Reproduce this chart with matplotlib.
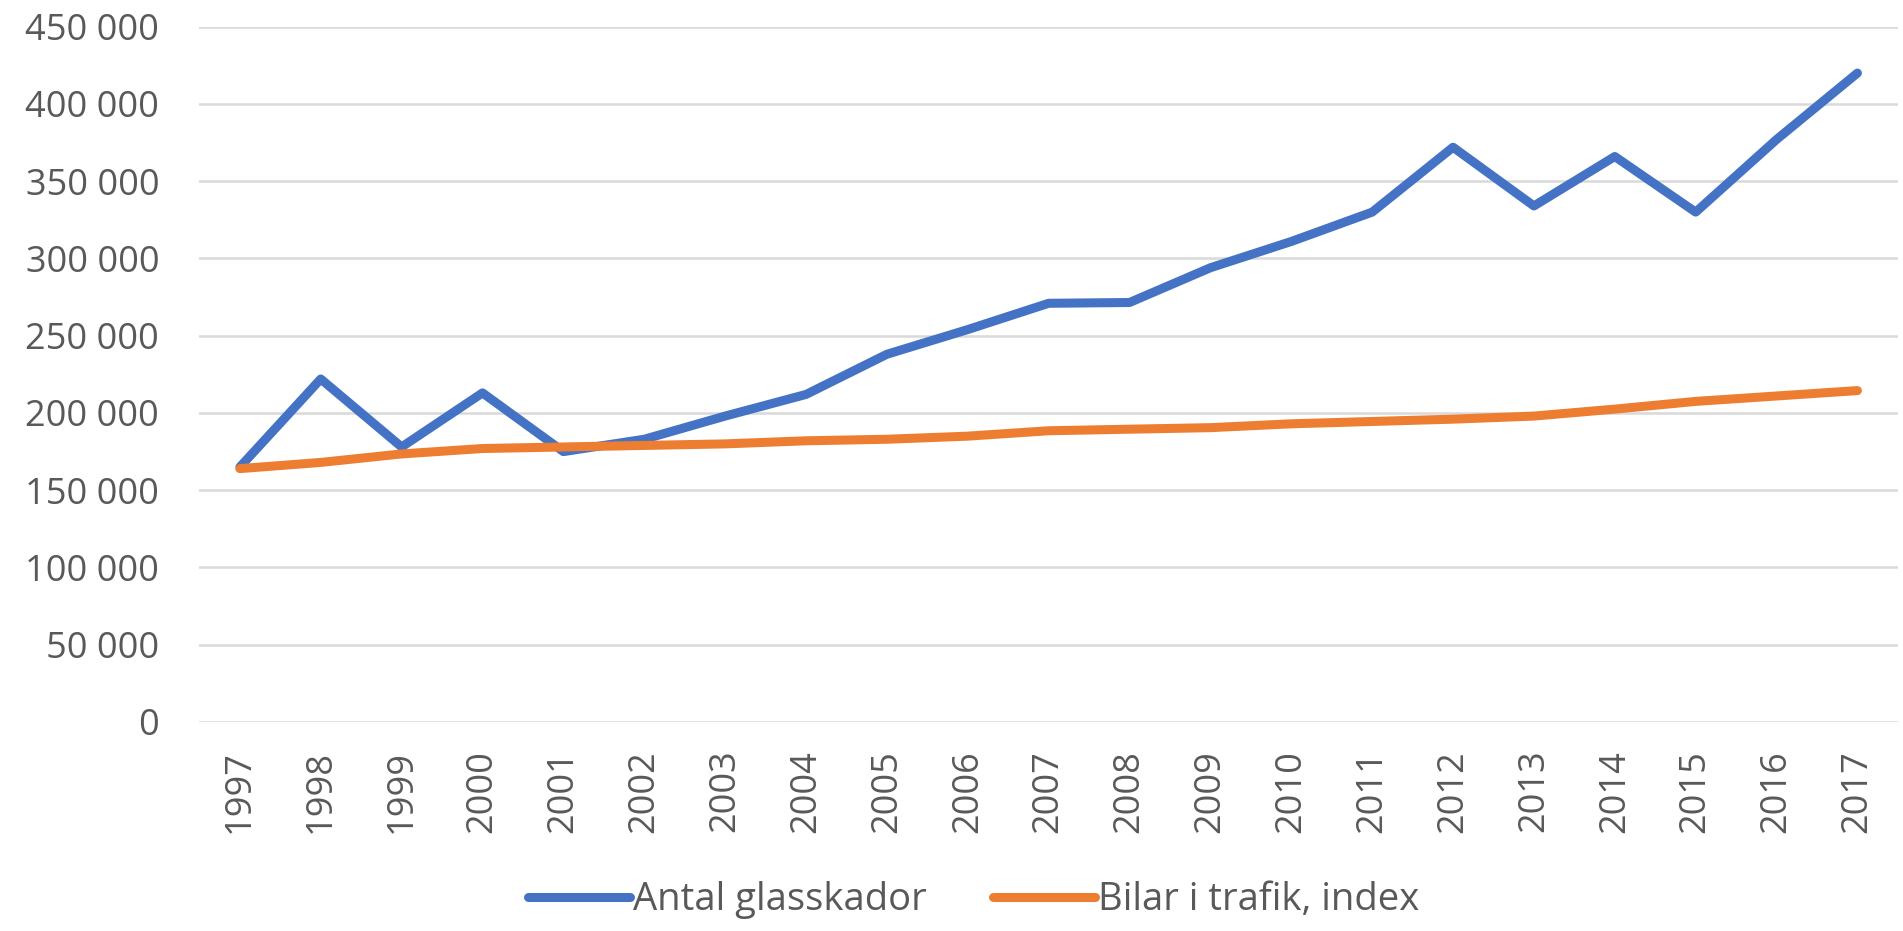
import numpy as np
import matplotlib
matplotlib.use("Agg")
import matplotlib.pyplot as plt
from matplotlib.ticker import FuncFormatter, MultipleLocator

# ---------------------------------------------------------
# DATA
# ---------------------------------------------------------
years = [str(y) for y in range(1997, 2018)]

glasskador = [165000, 222000, 178000, 213000, 175000, 183000, 198000,
              212000, 238000, 254000, 271000, 271500, 294000, 311000,
              330000, 372000, 334000, 366000, 330000, 377000, 420000]

bilar_index = [164000, 168000, 173500, 177000, 178000, 179000, 180000,
               182000, 183000, 185000, 188500, 189500, 190500, 193000,
               194500, 196000, 198000, 202500, 207500, 211000, 214500]

labels = ["Antal glasskador", "Bilar i trafik, index"]

# ---------------------------------------------------------
# STYLE
# ---------------------------------------------------------
plt.rcParams['font.family'] = ['Open Sans', 'DejaVu Sans']
TEXT = '#595959'
BLUE = '#4472C4'
ORANGE = '#ED7D31'
FS = 26

fig = plt.figure(figsize=(19.03, 9.31), dpi=100)
ax = fig.add_axes([0.1048, 0.2245, 0.8925, 0.7468])

x = np.arange(len(years))
ax.plot(x, glasskador, color=BLUE, lw=6.5, solid_capstyle='round',
        solid_joinstyle='round', label=labels[0])
ax.plot(x, bilar_index, color=ORANGE, lw=6.5, solid_capstyle='round',
        solid_joinstyle='round', label=labels[1])

ax.set_xlim(-0.5, len(years) - 0.5)
ax.set_ylim(0, 450000)
ax.yaxis.set_major_locator(MultipleLocator(50000))
ax.yaxis.set_major_formatter(FuncFormatter(lambda v, p: f"{int(v):,}".replace(",", " ")))
ax.set_xticks(x)
ax.set_xticklabels(years, rotation=90)

ax.grid(axis='y', color='#D9D9D9', lw=1.8)
ax.set_axisbelow(True)
for s in ax.spines.values():
    s.set_visible(False)
ax.tick_params(axis='both', length=0, colors=TEXT, labelsize=FS)
ax.tick_params(axis='y', pad=29)
ax.tick_params(axis='x', pad=20)

fig.legend(loc='center', bbox_to_anchor=(0.5116, 0.033), ncol=2, frameon=False,
           fontsize=27.5, labelcolor=TEXT, handlelength=2.67, handletextpad=0.08,
           columnspacing=1.75)

fig.savefig('out.png', dpi=100)
